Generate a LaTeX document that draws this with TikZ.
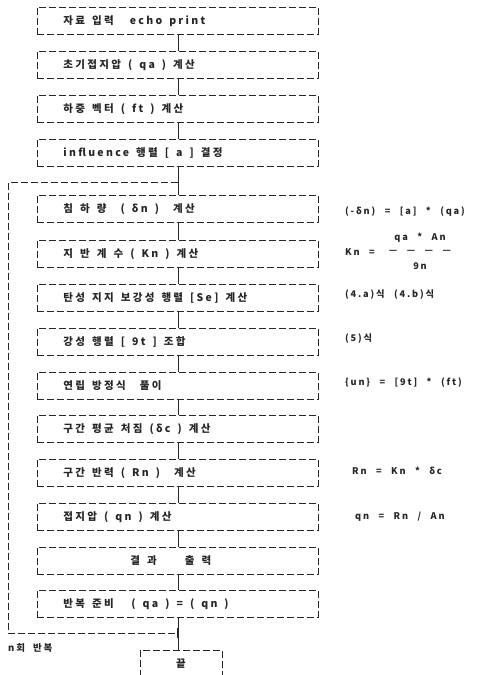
\documentclass[tikz,border=0pt]{standalone}
\usepackage{fontspec}
\setmainfont{Noto Sans CJK KR}[LetterSpace=20, WordSpace=2.4]
\newfontfamily\bxfont{Noto Sans CJK KR}[LetterSpace=22, WordSpace=1.5]
\newcommand\boxtxt[2][26pt]{\makebox[281pt][l]{\hspace*{#1}#2}}
\begin{document}
\begin{tikzpicture}[x=1pt,y=-1pt,
  dl/.style={draw=black!85, line width=0.9pt, dash pattern=on 7pt off 3pt},
  boxst/.style={dl, minimum height=27pt, minimum width=281pt, inner xsep=0pt, inner ysep=0pt,
     anchor=north west, font=\bxfont\fontsize{10.5}{12}\selectfont\bfseries, text=black!85},
  conn/.style={draw=black!85, line width=0.9pt},
  ann/.style={anchor=west, inner sep=0pt, font=\fontsize{9.2}{10}\selectfont\bfseries, text=black!85},
  endbox/.style={dl, minimum width=82pt, minimum height=26pt, anchor=north, inner sep=0pt,
     font=\bxfont\fontsize{10.5}{12}\selectfont\bfseries, text=black!85}
]
\useasboundingbox (0,0) rectangle (501,675);
\node[boxst] (b1) at (37,7) {\boxtxt{자료 입력\hspace{16pt}echo print}};
\node[boxst] (b2) at (37,51) {\boxtxt{초기접지압 ( qa ) 계산}};
\node[boxst] (b3) at (37,95) {\boxtxt{하중 벡터 ( ft ) 계산}};
\node[boxst] (b4) at (37,139) {\boxtxt{influence 행렬 [ a ] 결정}};
\node[boxst] (b5) at (37,195) {\boxtxt{침 하 량 \ ( δn ) \ 계산}};
\node[boxst] (b6) at (37,240) {\boxtxt{지 반 계 수 ( Kn ) 계산}};
\node[boxst] (b7) at (37,284) {\boxtxt{탄성 지지 보강성 행렬 [Se] 계산}};
\node[boxst] (b8) at (37,328) {\boxtxt{강성 행렬 [ 9t ] 조합}};
\node[boxst] (b9) at (37,372) {\boxtxt{연립 방정식 \ 풀이}};
\node[boxst] (b10) at (37,415) {\boxtxt{구간 평균 처짐 (δc ) 계산}};
\node[boxst] (b11) at (37,459) {\boxtxt{구간 반력 ( Rn ) \ 계산}};
\node[boxst] (b12) at (37,503) {\boxtxt{접지압 ( qn ) 계산}};
\node[boxst] (b13) at (37,547) {\boxtxt[93pt]{결 과\hspace{28pt}출 력}};
\node[boxst] (b14) at (37,590) {\boxtxt{반복 준비 \quad ( qa ) = ( qn )}};
\node[endbox] (e) at (181,650) {끝};

\foreach \a/\b in {b1/b2,b2/b3,b3/b4,b4/b5,b5/b6,b6/b7,b7/b8,b8/b9,b9/b10,b10/b11,b11/b12,b12/b13,b13/b14}
  \draw[conn] (\a.south) -- (\b.north);
\draw[conn] (b14.south) -- (b14.south |- e.north);

\coordinate (lt) at (177.5,182);
\coordinate (ltl) at (8,182);
\coordinate (lbl) at (8,633);
\coordinate (lb) at (177.5,633);
\draw[dl] (lt) -- (ltl) -- (lbl) -- (lb);
\draw[conn] (177.5,628) -- (177.5,638);

\node[anchor=west, inner sep=0pt, font=\fontsize{9.5}{10}\selectfont\bfseries, text=black!85] (rep) at (8,648) {n회\hspace{8pt}반복};

\node[ann] (a5) at (345,212) {(-δn) = [a] * (qa)};
\node[ann] (kn) at (345,252) {Kn =};
\node[ann, anchor=center] (knnum) at (420,238) {qa * An};
\node[ann, anchor=center] (knbar) at (420,252) {— — — —};
\node[ann, anchor=center] (knden) at (420,266) {9n};
\node[ann] (a7) at (345,295) {(4.a)식 (4.b)식};
\node[ann] (a8) at (345,339) {(5)식};
\node[ann] (a9) at (345,383) {\{un\} = [9t] * (ft)};
\node[ann] (a11) at (352,471) {Rn = Kn * δc};
\node[ann] (a12) at (355,516.5) {qn = Rn / An};
\end{tikzpicture}
\end{document}
